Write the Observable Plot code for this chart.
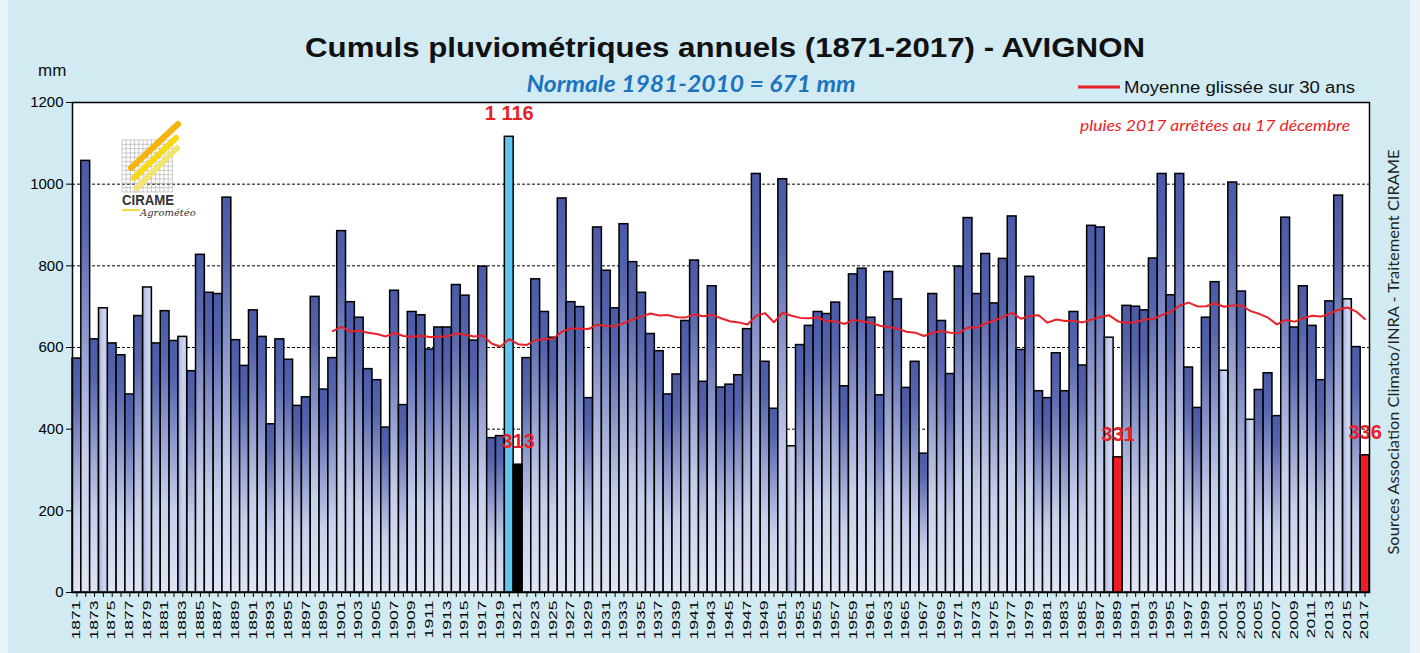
<!DOCTYPE html>
<html><head><meta charset="utf-8">
<script src="https://cdn.jsdelivr.net/npm/d3@7"></script>
<script src="https://cdn.jsdelivr.net/npm/@observablehq/plot@0.6"></script>
<style>
body{margin:0;background:#d2eaf2;}
#wrap{position:relative;width:1420px;height:653px;overflow:hidden;background:#d2eaf2;}
#chart{position:absolute;left:0;top:0;}
#over{position:absolute;left:0;top:0;pointer-events:none;}
</style></head>
<body><div id="wrap"><div id="chart"></div>
<svg id="over" width="1420" height="653" font-family="Liberation Sans, Arial, sans-serif">
  <rect x="0" y="0" width="8" height="653" fill="#ecf3f6"/>
  <rect x="1410" y="0" width="10" height="653" fill="#ecf3f6"/>
  <text x="725" y="57" text-anchor="middle" font-weight="bold" font-size="27" fill="#111" textLength="840" lengthAdjust="spacingAndGlyphs">Cumuls pluviométriques annuels (1871-2017) - AVIGNON</text>
  <text x="38" y="76" font-size="17" fill="#111">mm</text>
  <text x="691" y="92" text-anchor="middle" font-family="Lato, Open Sans, sans-serif" font-style="italic" font-weight="bold" font-size="22" fill="#1b74bd" textLength="329" lengthAdjust="spacingAndGlyphs">Normale 1981-2010 = 671 mm</text>
  <line x1="1078" x2="1120" y1="87" y2="87" stroke="#e8202a" stroke-width="3"/>
  <text x="1124" y="93" font-size="16" fill="#111" textLength="231" lengthAdjust="spacingAndGlyphs">Moyenne glissée sur 30 ans</text>
  <text x="1080" y="131" font-family="Lato, Open Sans, sans-serif" font-style="italic" font-size="15" fill="#ee1c25" textLength="270" lengthAdjust="spacingAndGlyphs">pluies 2017 arrêtées au 17 décembre</text>
  <text transform="translate(1399,352) rotate(-90)" text-anchor="middle" font-family="Lato, Open Sans, sans-serif" font-size="15" fill="#222" textLength="405" lengthAdjust="spacingAndGlyphs">Sources Association Climato/INRA - Traitement CIRAME</text>
  <g id="logo"></g>
</svg>
</div>
<script>
// ---- data ----
const years = d3.range(1871, 2018);
const rain = [
  573,1057,620,696,610,581,485,677,747,610,   // 1871-1880
  689,616,626,542,827,734,731,967,618,555,    // 1881-1890
  691,626,412,620,570,457,478,724,497,574,    // 1891-1900
  885,711,673,547,520,404,739,459,687,679,    // 1901-1910
  595,649,649,753,727,617,798,378,383,1116,   // 1911-1920
  313,574,767,687,624,965,711,699,476,894,    // 1921-1930
  788,696,902,809,734,633,591,485,534,665,    // 1931-1940
  813,516,750,502,509,532,645,1025,565,450,   // 1941-1950
  1012,358,606,653,687,682,710,505,779,793,   // 1951-1960
  673,483,785,718,501,565,340,731,665,535,    // 1961-1970
  798,917,731,829,708,817,921,594,773,493,    // 1971-1980
  476,586,493,687,556,898,894,624,331,702,    // 1981-1990
  700,691,818,1025,728,1025,551,452,673,760,  // 1991-2000
  543,1004,737,423,496,537,432,918,649,750,   // 2001-2010
  653,520,713,972,718,601,336                 // 2011-2017
];
const wetYears = [1920];
const blackYears = [1921];
const redYears = [1989, 2017];
const paleYears = [1874, 1879, 1883, 1952, 1988, 2001, 2004, 2015];
const labelYears = [1920, 1921, 1989, 2017];
const labelTexts = ["1 116", "313", "331", "336"];
const yTicks = [0, 200, 400, 600, 800, 1000, 1200];
const gridValues = [200, 400, 600, 800, 1000];

const kindOf = y => wetYears.includes(y) ? "wet" : blackYears.includes(y) ? "black"
  : redYears.includes(y) ? "red" : paleYears.includes(y) ? "pale" : "n";
const table = years.map((y, i) => ({year: y, mm: rain[i], kind: kindOf(y)}));
const labels = labelYears.map((y, i) => ({year: y, mm: rain[years.indexOf(y)], text: labelTexts[i]}));

const fills = {n: "url(#gN)", pale: "url(#gP)", wet: "#5ec6ee", black: "#000000", red: "#ee1c25"};
const barMarks = Object.keys(fills).map(k =>
  Plot.barY(table, {filter: d => d.kind === k, x: "year", y: "mm", fill: fills[k], stroke: "#000", strokeWidth: 1.5}));

const plot = Plot.plot({
  width: 1420, height: 653,
  marginLeft: 72, marginRight: 51, marginTop: 102, marginBottom: 61,
  style: {background: "transparent", fontFamily: "Liberation Sans, Arial, sans-serif", fontSize: "15px", color: "#000", overflow: "visible"},
  x: {type: "band", domain: years, padding: 0},
  y: {domain: [0, 1200]},
  marks: [
    Plot.frame({fill: "#fff", stroke: null}),
    Plot.ruleY(gridValues, {stroke: "#000", strokeWidth: 1, strokeDasharray: "3,2"}),
    ...barMarks,
    Plot.lineY(table, Plot.windowY({k: 30, anchor: "end", strict: true, reduce: "mean"}, {x: "year", y: "mm", stroke: "#e8202a", strokeWidth: 2})),
    Plot.text(labels, {x: "year", y: "mm", text: "text", dy: -23, fill: "#e8202a", fontWeight: "bold", fontSize: 20}),
    Plot.frame({stroke: "#000", strokeWidth: 1.5}),
    Plot.axisY(yTicks, {tickSize: 6, tickPadding: 3, fontSize: 15, label: null, tickFormat: d => String(d)}),
    Plot.axisX(years, {tickSize: 5, tickPadding: 3, tickRotate: -90, fontSize: 10, label: null,
      tickFormat: d => d % 2 === 1 ? String(d) : ""})
  ]
});
document.getElementById("chart").appendChild(plot);

// gradients
const defs = d3.select(plot).insert("defs", ":first-child");
const gN = defs.append("linearGradient").attr("id", "gN").attr("x1", 0).attr("y1", 0).attr("x2", 0).attr("y2", 1);
[[0, "#4b5aa7"], [0.15, "#5565ae"], [0.45, "#98a3d2"], [0.68, "#c6cfeb"], [1, "#dfe5f5"]]
  .forEach(([o, c]) => gN.append("stop").attr("offset", o).attr("stop-color", c));
const gP = defs.append("linearGradient").attr("id", "gP").attr("x1", 0).attr("y1", 0).attr("x2", 1).attr("y2", 0);
[[0, "#6f7ec2"], [0.22, "#b4bfe4"], [0.6, "#cdd5ee"], [1, "#c3cce9"]]
  .forEach(([o, c]) => gP.append("stop").attr("offset", o).attr("stop-color", c));

// stretch x tick labels along their reading direction
d3.select(plot).selectAll('g[aria-label="x-axis tick label"] text').each(function() {
  const t = this.getAttribute("transform") || "";
  this.setAttribute("transform", t + " scale(1.75,1)");
});

// logo
const logo = d3.select("#logo");
for (let i = 0; i <= 12; i++) {
  logo.append("line").attr("x1", 122 + i * 4.2).attr("x2", 122 + i * 4.2).attr("y1", 140).attr("y2", 192).attr("stroke", "#a8a8a8").attr("stroke-width", 0.6);
  logo.append("line").attr("y1", 140 + i * 4.33).attr("y2", 140 + i * 4.33).attr("x1", 122).attr("x2", 172.4).attr("stroke", "#a8a8a8").attr("stroke-width", 0.6);
}
[[131, 168, 178, 124, "#f6b40c"], [134, 178, 176, 138, "#f8d914"], [137, 188, 177, 148, "#f4e470"]]
  .forEach(([x1, y1, x2, y2, c]) => logo.append("line").attr("x1", x1).attr("y1", y1).attr("x2", x2).attr("y2", y2)
    .attr("stroke", c).attr("stroke-width", 6).attr("stroke-linecap", "round"));
logo.append("text").attr("x", 122).attr("y", 205).attr("font-weight", "bold").attr("font-size", 15).attr("fill", "#333")
  .attr("textLength", 52).attr("lengthAdjust", "spacingAndGlyphs").text("CIRAME");
logo.append("line").attr("x1", 122).attr("x2", 140).attr("y1", 210).attr("y2", 210).attr("stroke", "#eed000").attr("stroke-width", 1.5);
logo.append("text").attr("x", 140).attr("y", 216).attr("font-style", "italic").attr("font-size", 10).attr("fill", "#333")
  .attr("font-family", "DejaVu Serif, serif").text("Agrométéo");
</script>
</body></html>
